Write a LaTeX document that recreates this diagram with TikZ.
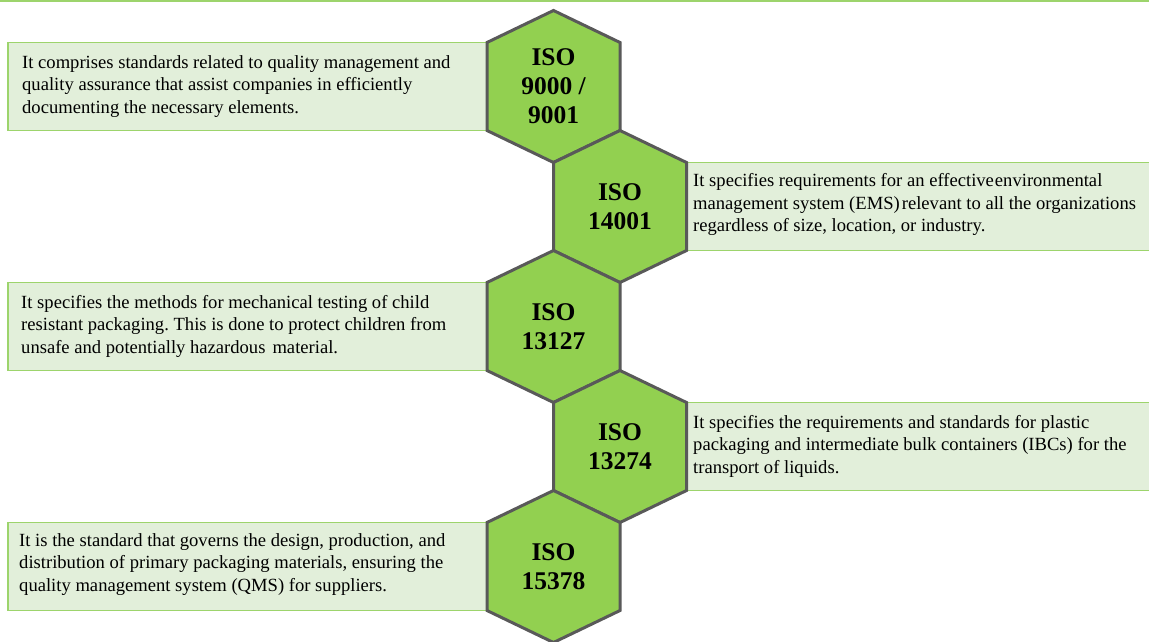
\documentclass[tikz,border=0pt]{standalone}
\usepackage{fontspec}
\setmainfont{Liberation Serif}
\usetikzlibrary{calc}
\definecolor{hexfill}{HTML}{92D050}
\definecolor{hexline}{HTML}{595959}
\definecolor{boxfill}{HTML}{E2EFDA}
\definecolor{boxline}{HTML}{9DD46C}
\tikzset{
  hexpath/.style={fill=hexfill, draw=hexline, line width=3pt, line join=miter},
  infobox/.style={fill=boxfill, draw=boxline, line width=1.8pt},
  hexlabel/.style={font=\fontsize{25.5}{29}\selectfont\bfseries, align=center, inner sep=0pt},
  bodytext/.style={font=\frenchspacing\fontsize{18.6}{22.5}\selectfont, align=left, inner sep=0pt, anchor=west},
}
\newcommand\drawhex[1]{%
  \draw[hexpath] ($(#1)+(0,-76)$) -- ++(66.5,32) -- ++(0,88) -- ++(-66.5,32)
     -- ++(-66.5,-32) -- ++(0,-88) -- cycle;}
\begin{document}
\begin{tikzpicture}[x=1pt,y=-1pt]
\useasboundingbox (0,0) rectangle (1149,641);
\fill[white] (0,0) rectangle (1149,641);
\draw[boxline, line width=1.5pt] (0,1.2) -- (1149,1.2);
% hex centres
\coordinate (c1) at (553.5,86.5);
\coordinate (c2) at (620,206.5);
\coordinate (c3) at (553.5,326.5);
\coordinate (c4) at (620,446.5);
\coordinate (c5) at (553.5,566.5);
% boxes
\draw[infobox] (8,42.5) rectangle (500,130.5);
\draw[infobox] (675,162.5) rectangle (1160,250.5);
\draw[infobox] (8,282.5) rectangle (500,370.5);
\draw[infobox] (675,402.5) rectangle (1160,490.5);
\draw[infobox] (8,522.5) rectangle (500,610.5);
% hexagons
\drawhex{c1}
\drawhex{c2}
\drawhex{c3}
\drawhex{c4}
\drawhex{c5}
\node[hexlabel] (h1) at (c1) {ISO\\9000 /\\9001};
\node[hexlabel] (h2) at (c2) {ISO\\14001};
\node[hexlabel] (h3) at (c3) {ISO\\13127};
\node[hexlabel] (h4) at (c4) {ISO\\13274};
\node[hexlabel] (h5) at (c5) {ISO\\15378};
% texts
\node[bodytext] (t1) at (22,86.5) {It comprises standards related to quality management and\\quality assurance that assist companies in efficiently\\documenting the necessary elements.};
\node[bodytext] (t2) at (693,204.5) {It specifies requirements for an effective\kern1pt environmental\\management system (EMS)\kern2pt relevant to all the organizations\\regardless of size, location, or industry.};
\node[bodytext] (t3) at (21,326) {It specifies the methods for mechanical testing of child\\resistant packaging. This is done to protect children from\\unsafe and potentially hazardous\kern7pt material.};
\node[bodytext] (t4) at (693,446) {It specifies the requirements and standards for plastic\\packaging and intermediate bulk containers (IBCs) for the\\transport of liquids.};
\node[bodytext] (t5) at (19,564.5) {It is the standard that governs the design, production, and\\distribution of primary packaging materials, ensuring the\\quality management system (QMS) for suppliers.};
\end{tikzpicture}
\end{document}
